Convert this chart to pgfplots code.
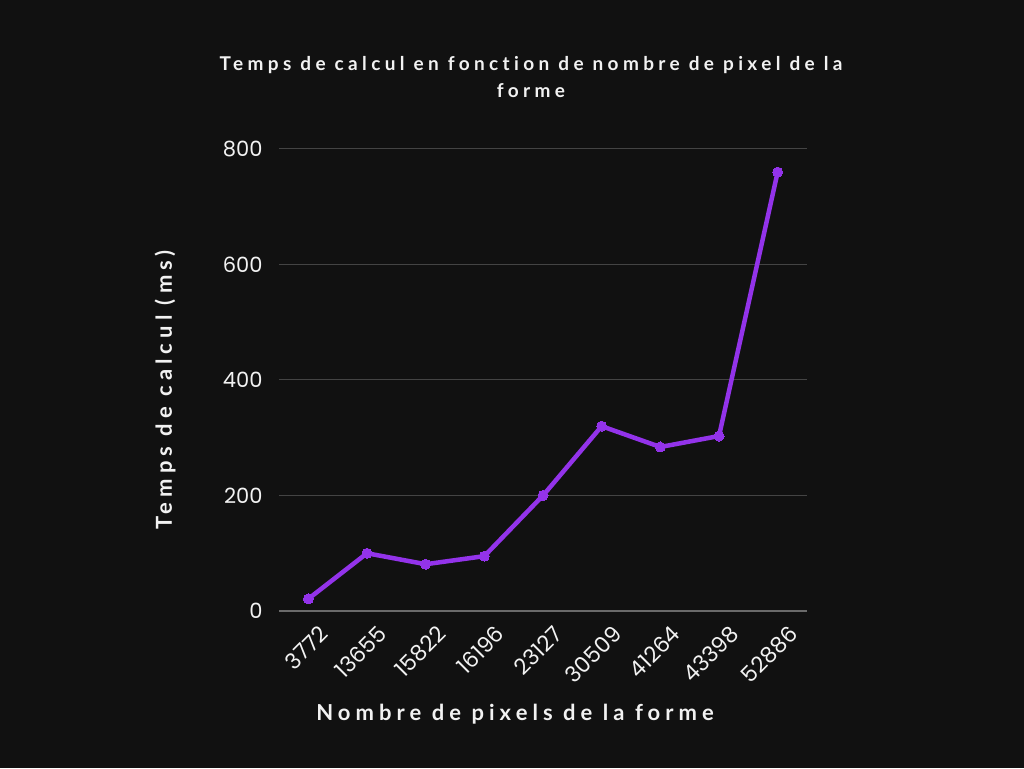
\documentclass[border=0pt]{standalone}
\usepackage{fontspec}
\usepackage{pgfplots}
\pgfplotsset{compat=1.18}
\setmainfont{Poppins}
\newfontfamily\lato[LetterSpace=23,Ligatures={NoCommon}]{Lato}
\definecolor{bg}{HTML}{111111}
\definecolor{gridc}{HTML}{444444}
\definecolor{zeroc}{HTML}{6A6A6A}
\definecolor{purp}{HTML}{9333EA}
\definecolor{txt}{HTML}{F2F2F2}
\begin{document}
\begin{tikzpicture}[x=1pt,y=1pt]
\path[fill=bg,use as bounding box] (0,0) rectangle (1024,768);
\begin{axis}[
  at={(279pt,157pt)}, anchor=south west,
  scale only axis, width=528pt, height=462pt,
  xmin=-0.5, xmax=8.5, ymin=0, ymax=800,
  xtick={0,...,8},
  xticklabels={3772,13655,15822,16196,23127,30509,41264,43398,52886},
  ytick={0,200,400,600,800},
  axis line style={draw=none},
  major tick length=0pt,
  ymajorgrids, grid style={color=gridc, line width=1pt},
  /pgf/number format/assume math mode=true,
  ticklabel style={font=\fontsize{21}{24}\selectfont, text=txt},
  yticklabel style={xshift=-13pt},
  xticklabel style={rotate=45, anchor=north east, font=\fontsize{22}{24}\selectfont, xshift=1pt, yshift=-13pt},
  clip=false,
]
\draw[zeroc, line width=1.2pt] (axis cs:-0.5,0) -- (axis cs:8.5,0);
\addplot[purp, line width=4.5pt, mark=*, mark size=5pt, mark options={line width=0pt, fill=purp}] coordinates {
(0,21) (1,100) (2,81) (3,95) (4,200) (5,320) (6,284) (7,303) (8,760)
};
\end{axis}
\node[text=txt, font=\lato\bfseries\fontsize{19}{27}\selectfont, align=center] at (531, 691) {Temps de calcul en fonction de nombre de pixel de la\\forme};
\node[text=txt, font=\lato\bfseries\fontsize{22}{24}\selectfont] at (515, 54) {Nombre de pixels de la forme};
\node[text=txt, font=\lato\bfseries\fontsize{22}{24}\selectfont, rotate=90] at (165, 378) {Temps de calcul (ms)};
\end{tikzpicture}
\end{document}
